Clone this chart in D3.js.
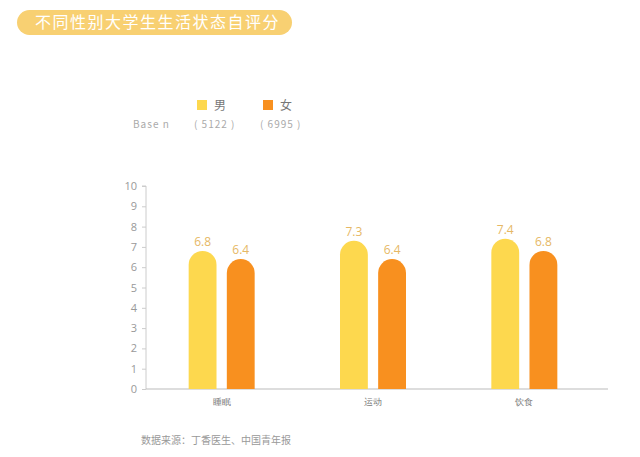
<!DOCTYPE html>
<html lang="zh">
<head>
<meta charset="UTF-8">
<script src="https://d3js.org/d3.v7.min.js"></script>
<style>
  body { margin: 0; background: #fff; }
  svg { display: block; font-family: "Noto Sans CJK SC", "Noto Sans", sans-serif; }
</style>
</head>
<body>
<svg width="640" height="457"></svg>
<script>
// data
const categories = ["睡眠", "运动", "饮食"];
const seriesNames = ["男", "女"];
const baseN = ["( 5122 )", "( 6995 )"];
const male = [6.8, 7.3, 7.4];
const female = [6.4, 6.4, 6.8];
const yTicks = [0, 1, 2, 3, 4, 5, 6, 7, 8, 9, 10];

const colors = ["#fdd84e", "#f8901f"];
const svg = d3.select("svg");

// title pill
svg.append("rect")
  .attr("x", 17).attr("y", 10).attr("width", 275).attr("height", 25)
  .attr("rx", 12.5).attr("fill", "#f8d072");
svg.append("text")
  .attr("x", 35).attr("y", 28)
  .attr("fill", "#fff").style("font-size", "16px").style("letter-spacing", "1.5px")
  .text("不同性别大学生生活状态自评分");

// legend
const lgX = [197, 263];
seriesNames.forEach((s, i) => {
  svg.append("rect").attr("x", lgX[i]).attr("y", 100).attr("width", 10).attr("height", 10)
    .attr("fill", colors[i]);
  svg.append("text").attr("x", lgX[i] + 17).attr("y", 110)
    .attr("fill", "#777").style("font-size", "12px").text(s);
  svg.append("text").attr("x", lgX[i] - 3).attr("y", 128)
    .attr("fill", "#aaa").style("font-size", "10px").style("letter-spacing", "1px").text(baseN[i]);
});
svg.append("text").attr("x", 133).attr("y", 128)
  .attr("fill", "#aaa").style("font-size", "10px").style("letter-spacing", "1px").text("Base  n");

// chart
const x0 = d3.scaleBand().domain(categories).range([146, 600]);
const x1 = d3.scaleBand().domain(seriesNames).range([-33, 33]).paddingInner(0.27);
const y = d3.scaleLinear().domain([0, 10]).range([389, 186]);

const yAxis = svg.append("g").attr("transform", "translate(146,0)")
  .call(d3.axisLeft(y).tickValues(yTicks).tickSize(4).tickPadding(5));
yAxis.select(".domain").attr("stroke", "#ccc").attr("d", "M-4,186H0V389");
yAxis.selectAll(".tick line").attr("stroke", "#ccc");
yAxis.selectAll(".tick text").attr("fill", "#999").style("font-size", "11px")
  .style("font-family", "'Open Sans', sans-serif");

const xAxis = svg.append("g").attr("transform", "translate(0,389)")
  .call(d3.axisBottom(x0).tickSize(0).tickPadding(10));
xAxis.select(".domain").attr("stroke", "#bbb").attr("d", "M146,0H608");
xAxis.selectAll(".tick text").attr("fill", "#777").style("font-size", "9px");

const rows = categories.map((c, i) => ({ c, vals: [male[i], female[i]] }));
const bw = x1.bandwidth();
const r = bw / 2;

const grp = svg.append("g").selectAll("g").data(rows).join("g")
  .attr("transform", d => `translate(${x0(d.c) + x0.bandwidth() / 2},0)`);

grp.selectAll("path").data(d => d.vals.map((v, i) => ({ v, s: seriesNames[i], i })))
  .join("path")
  .attr("fill", d => colors[d.i])
  .attr("d", d => {
    const xl = x1(d.s), top = y(d.v), bot = y(0);
    return `M${xl},${bot}V${top + r}A${r},${r} 0 0 1 ${xl + bw},${top + r}V${bot}Z`;
  });

grp.selectAll("text.val").data(d => d.vals.map((v, i) => ({ v, s: seriesNames[i], i })))
  .join("text").attr("class", "val")
  .attr("x", d => x1(d.s) + bw / 2).attr("y", d => y(d.v) - 5)
  .attr("text-anchor", "middle").attr("fill", "#e6b865")
  .style("font-size", "12px").style("font-family", "'Open Sans', sans-serif")
  .text(d => d.v.toFixed(1));

// source
svg.append("text").attr("x", 141).attr("y", 444)
  .attr("fill", "#999").style("font-size", "10px")
  .text("数据来源：丁香医生、中国青年报");
</script>
</body>
</html>
